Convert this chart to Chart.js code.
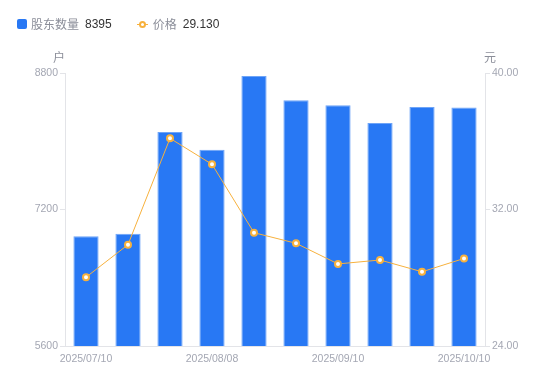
<!DOCTYPE html>
<html><head><meta charset="utf-8">
<script src="https://cdn.jsdelivr.net/npm/chart.js@4/dist/chart.umd.min.js"></script>
<style>
html,body{margin:0;padding:0;background:#fff;}
#wrap{position:relative;width:550px;height:381px;}
#legend{position:absolute;left:17px;top:15px;font-family:"Noto Sans CJK SC","Liberation Sans",sans-serif;font-size:12px;line-height:18px;display:flex;align-items:center;white-space:nowrap;}
.sq{display:inline-block;width:10px;height:10px;background:#2878f4;border-radius:2px;margin-right:4px;}
.lk{color:#8b8e99;margin-right:6px;}
.lv{color:#333;font-family:"Liberation Sans",sans-serif;font-size:12px;}
.ln{position:relative;display:inline-block;width:11px;height:10px;margin-right:5px;}
.ln:before{content:"";position:absolute;left:0;right:0;top:4.5px;height:1px;background:#f7b13d;}
.ln:after{content:"";position:absolute;left:2.5px;top:2px;width:3px;height:3px;border:2px solid #f7b13d;border-radius:50%;background:#fff;}
</style></head>
<body><div id="wrap">
<canvas id="c" width="550" height="381"></canvas>
<div id="legend"><span class="sq"></span><span class="lk">股东数量</span><span class="lv" id="v1"></span><span style="display:inline-block;width:25px"></span><span class="ln"></span><span class="lk">价格</span><span class="lv" id="v2"></span></div>
</div>
<script>
const categories = ["2025/07/10","2025/07/20","2025/07/31","2025/08/08","2025/08/20","2025/08/31","2025/09/10","2025/09/19","2025/09/30","2025/10/10"];
const holders = [6886, 6916, 8108, 7901, 8765, 8480, 8421, 8214, 8401, 8395];
const prices = [28.03, 29.94, 36.17, 34.65, 30.64, 30.02, 28.81, 29.04, 28.35, 29.13];
const leftTicks = [5600, 7200, 8800];
const rightTicks = [24, 32, 40];
const unitLeft = "户";
const unitRight = "元";

document.getElementById('v1').textContent = String(holders[holders.length-1]);
document.getElementById('v2').textContent = prices[prices.length-1].toFixed(3);

const tickColor = '#a4a7b3';
const axisColor = '#e3e4e8';
const tickFont = {family:'"Liberation Sans", sans-serif', size:10.5};

const unitPlugin = {
  id:'units',
  afterDraw(chart){
    const ctx = chart.ctx;
    const y = chart.scales.y, y1 = chart.scales.y1;
    ctx.save();
    ctx.font = '12px "Noto Sans CJK SC", sans-serif';
    ctx.fillStyle = '#8b8e99';
    ctx.textBaseline = 'middle';
    ctx.textAlign = 'right';
    ctx.fillText(unitLeft, y.right, y.top - 16);
    ctx.textAlign = 'left';
    ctx.fillText(unitRight, y1.left - 1, y1.top - 16);
    ctx.restore();
  }
};

new Chart(document.getElementById('c'), {
  data:{
    labels:categories,
    datasets:[
      {type:'line', label:'价格', data:prices, yAxisID:'y1', borderColor:'#f7b13d', borderWidth:1,
       pointRadius:3, pointBorderWidth:2, pointBackgroundColor:'#fff', pointBorderColor:'#f7b13d',
       tension:0, order:0},
      {type:'bar', label:'股东数量', data:holders, yAxisID:'y', backgroundColor:'#2878f4',
       borderColor:'#6ea4f7', borderWidth:{top:1,left:1,right:1,bottom:0}, barPercentage:0.6, categoryPercentage:1, order:1}
    ]
  },
  options:{
    responsive:false, animation:false,
    layout:{padding:{top:73,left:0,right:0,bottom:0}},
    plugins:{legend:{display:false}, tooltip:{enabled:false}},
    scales:{
      x:{
        grid:{display:false, drawTicks:false},
        border:{display:true, color:axisColor},
        ticks:{autoSkip:false, maxRotation:0, padding:7, color:tickColor, font:tickFont,
          callback:function(v,i){ return i%3===0 ? categories[i] : ''; }},
        afterFit(s){ s.height = 35; }
      },
      y:{
        position:'left', min:leftTicks[0], max:leftTicks[leftTicks.length-1],
        afterBuildTicks(s){ s.ticks = leftTicks.map(v=>({value:v})); },
        grid:{drawOnChartArea:false, tickLength:5, color:axisColor},
        border:{display:true, color:axisColor},
        ticks:{padding:2, color:tickColor, font:tickFont, callback:v=>String(v)},
        afterFit(s){ s.width = 65; }
      },
      y1:{
        position:'right', min:rightTicks[0], max:rightTicks[rightTicks.length-1],
        afterBuildTicks(s){ s.ticks = rightTicks.map(v=>({value:v})); },
        grid:{drawOnChartArea:false, tickLength:5, color:axisColor},
        border:{display:true, color:axisColor},
        ticks:{padding:2, color:tickColor, font:tickFont, callback:v=>Number(v).toFixed(2)},
        afterFit(s){ s.width = 65; }
      }
    }
  },
  plugins:[unitPlugin]
});
</script>
</body></html>
